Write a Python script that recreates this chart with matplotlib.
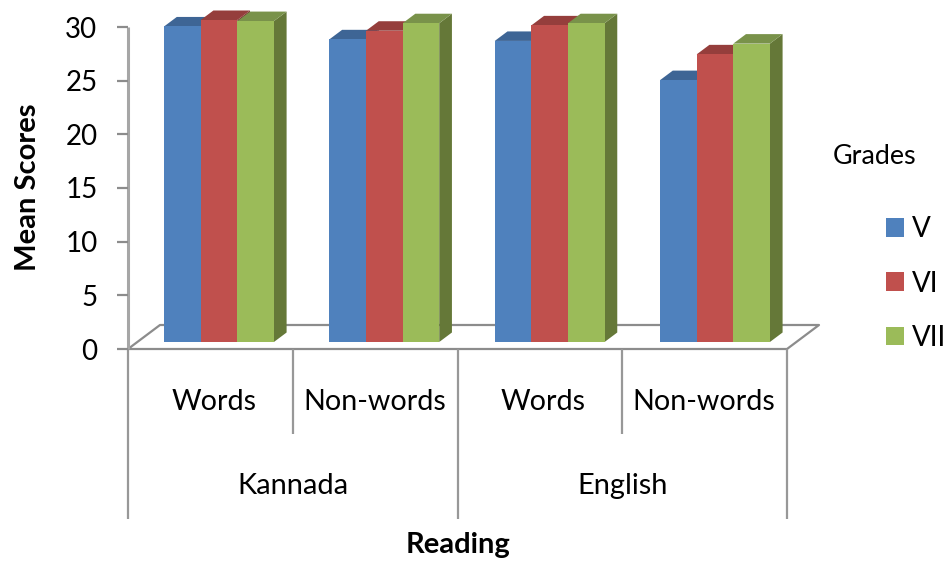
import matplotlib
matplotlib.use("Agg")
import matplotlib.pyplot as plt
from matplotlib.patches import Polygon, Patch
from matplotlib.lines import Line2D

plt.rcParams["font.family"] = ["Lato", "DejaVu Sans"]

skills = ["Words", "Non-words", "Words", "Non-words"]
languages = ["Kannada", "English"]
grades = ["V", "VI", "VII"]
scores_v = [29.4, 28.2, 28.05, 24.4]
scores_vi = [30.0, 29.0, 29.5, 26.8]
scores_vii = [29.9, 29.7, 29.7, 27.8]
y_ticks = [0, 5, 10, 15, 20, 25, 30]

front_colors = ["#4F81BD", "#C0504D", "#9BBB59"]
top_colors = ["#3E6595", "#953E3C", "#79924A"]
side_colors = ["#34547C", "#7C3432", "#657838"]
axis_gray = "#8C8C8C"

W, H = 948, 561
fig = plt.figure(figsize=(W / 100, H / 100), dpi=100)

# Plot box: category axis spans x 128..787 px, value axis spans y 27..349 px
left, right, top, bottom = 128, 787, 27, 349
ax = fig.add_axes([left / W, 1 - bottom / H, (right - left) / W, (bottom - top) / H])
ax.set_xlim(0, 4)
ax.set_ylim(0, 30)
ax.patch.set_alpha(0)
for s in ax.spines.values():
    s.set_visible(False)

px_x = 4 / (right - left)
px_y = 30 / (bottom - top)

# Oblique projection offsets
floor_dx, floor_dy = 32 * px_x, 24 * px_y
bar_dx, bar_dy = 12.7 * px_x, 9.5 * px_y
lift = 7 * px_y
first_center = (219 - left) * px_x
group_pitch = 165.33 * px_x
bar_w = 36.6 * px_x


def gray_line(xs, ys, lw=1.6, color=axis_gray):
    ax.add_line(Line2D(xs, ys, color=color, lw=lw, clip_on=False,
                       solid_capstyle="butt", zorder=1))


# Floor of the 3-D box
gray_line([0, floor_dx, 4 + floor_dx, 4, 0], [0, floor_dy, floor_dy, 0, 0])
# Value axis with outward ticks
gray_line([0, 0], [0, 30], lw=2.2, color="#A6A6A6")
ax.set_yticks(y_ticks)
ax.set_xticks([])
ax.tick_params(axis="y", length=8, width=1.6, color="#8C8C8C",
               labelsize=20, labelcolor="black", pad=14)

# Multi-level category separators below the floor
sep_short = -(434 - bottom) * px_y
sep_long = -(519 - bottom) * px_y
for x in [0, 2, 4]:
    gray_line([x, x], [0, sep_long], color="#989898")
for x in [1, 3]:
    gray_line([x, x], [0, sep_short], color="#989898")

# Bars: front face from the axes scale, top and side faces as oblique polygons
for i, values in enumerate([scores_v, scores_vi, scores_vii]):
    for g, v in enumerate(values):
        x0 = first_center + g * group_pitch + (i - 1.5) * bar_w
        x1 = x0 + bar_w
        y0, y1 = lift, lift + v
        ax.add_patch(Polygon([(x1, y0), (x1 + bar_dx, y0 + bar_dy),
                              (x1 + bar_dx, y1 + bar_dy), (x1, y1)],
                             closed=True, fc=side_colors[i],
                             ec="none", clip_on=False, zorder=3 + g * 5 + i))
        ax.add_patch(Polygon([(x0, y1), (x1, y1), (x1 + bar_dx, y1 + bar_dy),
                              (x0 + bar_dx, y1 + bar_dy)],
                             closed=True, fc=top_colors[i], ec="none",
                             clip_on=False, zorder=3 + g * 5 + i))
        ax.bar(x0, v, width=bar_w, bottom=lift, align="edge", color=front_colors[i],
               edgecolor="none", clip_on=False, zorder=3.5 + g * 5 + i)

# Category labels in two levels
label_nudge = [3.5, -0.5, 3.5, -0.5]
for g, name in enumerate(skills):
    ax.text(g + 0.5 + label_nudge[g] * px_x, -(401.5 - bottom) * px_y, name,
            ha="center", va="center", fontsize=20.6, color="black", clip_on=False)
for g, name in enumerate(languages):
    ax.text(2 * g + 1, -(486.5 - bottom) * px_y, name, ha="center", va="center",
            fontsize=20.9, color="black", clip_on=False)

fig.text(458 / W, 1 - 545.5 / H, "Reading", ha="center", va="center",
         fontsize=21, fontweight="bold")
fig.text(28.5 / W, 1 - 187 / H, "Mean Scores", ha="center", va="center",
         rotation=90, fontsize=21, fontweight="bold")
fig.text(833 / W, 1 - 156 / H, "Grades", ha="left", va="center", fontsize=19.4)

handles = [Patch(facecolor=c, edgecolor="none", label=l)
           for c, l in zip(front_colors, grades)]
fig.legend(handles=handles, loc="center left",
           bbox_to_anchor=(886 / W, 1 - 283.5 / H), frameon=False, fontsize=20,
           handlelength=0.65, handleheight=0.65, handletextpad=0.3,
           labelspacing=1.01, borderpad=0, borderaxespad=0)

fig.savefig("out.png", dpi=100)
